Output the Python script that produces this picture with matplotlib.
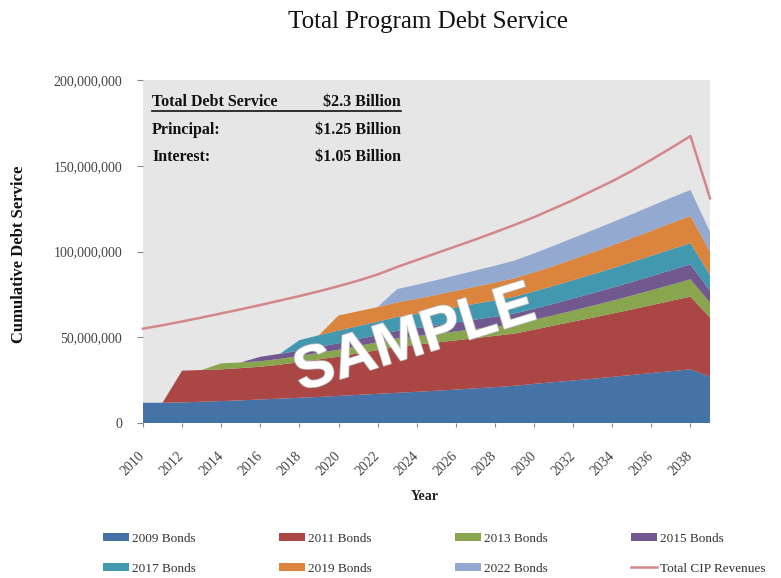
import matplotlib
matplotlib.use("Agg")
import matplotlib.pyplot as plt
from matplotlib.lines import Line2D
from matplotlib.patches import Patch
import matplotlib.ticker as mticker
import matplotlib.patheffects as pe

years = list(range(2010, 2040))

# values in millions of dollars
bonds_2009 = [11.8, 11.8, 12.0, 12.4, 12.8, 13.2, 13.7, 14.2, 14.7, 15.2,
              15.8, 16.4, 17.0, 17.6, 18.2, 18.8, 19.5, 20.2, 20.9, 21.7,
              22.8, 23.8, 24.8, 25.8, 26.9, 28.0, 29.1, 30.2, 31.3, 27.0]
bonds_2011 = [0, 0, 18.5, 18.5, 18.5, 18.8, 19.1, 19.8, 20.8, 21.9,
              22.9, 24.2, 25.5, 26.9, 27.5, 28.1, 28.7, 29.3, 29.9, 30.4,
              31.6, 33.0, 34.3, 35.6, 36.9, 38.2, 39.6, 41.0, 42.4, 34.5]
bonds_2013 = [0, 0, 0, 0, 3.5, 3.3, 3.2, 3.4, 3.6, 3.8,
              4.0, 4.3, 4.6, 4.9, 5.0, 5.1, 5.2, 5.3, 5.4, 5.6,
              5.8, 6.0, 6.5, 7.0, 7.5, 8.1, 8.7, 9.4, 10.1, 8.7]
bonds_2015 = [0, 0, 0, 0, 0, 0, 2.6, 2.9, 3.2, 3.5,
              3.8, 4.0, 4.2, 4.4, 4.6, 4.9, 5.2, 5.5, 5.8, 6.1,
              6.4, 6.7, 7.0, 7.3, 7.6, 7.9, 8.2, 8.5, 8.7, 6.9]
bonds_2017 = [0, 0, 0, 0, 0, 0, 0, 0, 6.0, 6.8,
              7.4, 7.6, 7.8, 8.0, 8.3, 8.6, 8.9, 9.2, 9.5, 9.8,
              10.1, 10.4, 10.7, 11.0, 11.3, 11.6, 11.9, 12.1, 12.3, 9.2]
bonds_2019 = [0, 0, 0, 0, 0, 0, 0, 0, 0, 0,
              8.8, 8.6, 8.5, 8.5, 8.8, 9.2, 9.6, 10.0, 10.4, 10.8,
              11.2, 11.6, 12.2, 12.8, 13.4, 14.0, 14.6, 15.3, 15.9, 13.6]
bonds_2022 = [0, 0, 0, 0, 0, 0, 0, 0, 0, 0,
              0, 0, 0, 7.8, 8.2, 8.6, 9.0, 9.4, 9.8, 10.3,
              11.0, 11.8, 12.4, 12.9, 13.4, 13.9, 14.4, 14.8, 15.2, 11.6]
cip_revenues = [55.0, 57.0, 59.2, 61.5, 63.9, 66.3, 68.8, 71.4, 74.0, 76.8,
                79.8, 83.0, 86.6, 91.0, 95.0, 99.0, 103.0, 107.0, 111.2, 115.5,
                120.0, 125.0, 130.0, 135.5, 141.0, 147.0, 153.5, 160.3, 167.3, 131.0]

series_names = ["2009 Bonds", "2011 Bonds", "2013 Bonds", "2015 Bonds",
                "2017 Bonds", "2019 Bonds", "2022 Bonds"]
line_name = "Total CIP Revenues"
colors = ["#4572A7", "#AA4643", "#89A54E", "#71588F", "#4198AF", "#DB843D", "#93A9CF"]
line_color = "#D4878A"
tick_years = list(range(2010, 2039, 2))
y_ticks = [0, 50, 100, 150, 200]

W, H = 781, 578
def fx(x):
    return x / W
def fy(y):
    return 1 - y / H

serif = "Liberation Serif"

fig = plt.figure(figsize=(7.81, 5.78), dpi=100)
ax = fig.add_axes([fx(143), fy(423), fx(710) - fx(143), fy(80) - fy(423)])
ax.set_facecolor("#E6E6E6")

scale = 1e6
stack = [[v * scale for v in s] for s in
         [bonds_2009, bonds_2011, bonds_2013, bonds_2015, bonds_2017, bonds_2019, bonds_2022]]
ax.stackplot(years, *stack, colors=colors, linewidth=0)
ax.plot(years, [v * scale for v in cip_revenues], color=line_color, lw=1.8, clip_on=False, zorder=5)

ax.set_xlim(2010, 2039)
ax.set_ylim(0, 200 * scale)
for s in ax.spines.values():
    s.set_visible(False)

ax.set_yticks([v * scale for v in y_ticks])
ax.yaxis.set_major_formatter(mticker.FuncFormatter(lambda v, p: f"{int(round(v)):,}"))
ax.set_xticks(tick_years)
ax.set_xticklabels([str(y) for y in tick_years], rotation=45, ha="right",
                   rotation_mode="anchor", va="center")
ax.tick_params(axis="y", length=4, color="#888888", pad=11, labelsize=10, labelcolor="#444444")
ax.tick_params(axis="x", length=3, color="#888888", pad=19, labelsize=10, labelcolor="#444444")
for lab in ax.get_xticklabels() + ax.get_yticklabels():
    lab.set_fontfamily(serif)

fig.text(fx(19), fy(254), "Cumulative Debt Service", rotation=90, ha="center", va="center",
         fontsize=12, fontweight="bold", fontfamily=serif, color="#111111")
fig.text(fx(425), fy(497), "Year", ha="center", va="center",
         fontsize=10, fontweight="bold", fontfamily=serif, color="#222222")
fig.text(fx(428), fy(22), "Total Program Debt Service", ha="center", va="center",
         fontsize=18, fontfamily=serif, color="#111111")

# info box
rows = [("Total Debt Service", "$2.3 Billion", 102),
        ("Principal:", "$1.25 Billion", 130),
        ("Interest:", "$1.05 Billion", 157)]
for left, right, y in rows:
    fig.text(fx(152), fy(y), left, ha="left", va="center", fontsize=11.5,
             fontweight="bold", fontfamily=serif, color="#111111")
    fig.text(fx(401), fy(y), right, ha="right", va="center", fontsize=11.5,
             fontweight="bold", fontfamily=serif, color="#111111")
fig.add_artist(Line2D([fx(152), fx(401)], [fy(111), fy(111)], transform=fig.transFigure,
                      color="#111111", lw=1.2))

# watermark
fig.text(fx(415), fy(340), "SAMPLE", rotation=17, ha="center", va="center",
         fontsize=43, fontweight="bold", fontfamily="Liberation Sans", color="white",
         path_effects=[pe.withStroke(linewidth=1.2, foreground="#bbbbbb")], zorder=10)

# legend (row-wise order)
handles = [Patch(facecolor=c, edgecolor="none") for c in colors]
handles.append(Line2D([0], [0], color=line_color, lw=1.8))
labels = series_names + [line_name]
order = [0, 4, 1, 5, 2, 6, 3, 7]
leg = fig.legend([handles[i] for i in order], [labels[i] for i in order],
                 ncol=4, loc="upper left", bbox_to_anchor=(fx(91), fy(521)),
                 frameon=False, handlelength=2.0, handleheight=0.6, handletextpad=0.2,
                 columnspacing=6.3, labelspacing=1.35,
                 prop={"family": serif, "size": 9.5})
for t in leg.get_texts():
    t.set_color("#333333")

fig.savefig("out.png", dpi=100, facecolor="white")
